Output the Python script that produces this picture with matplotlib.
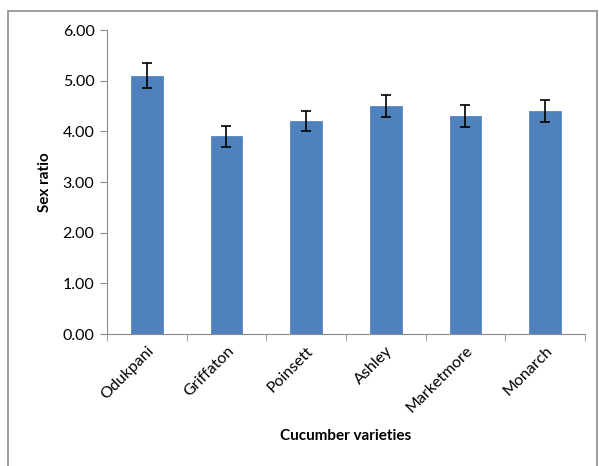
import matplotlib.pyplot as plt
from matplotlib.patches import Rectangle

varieties = ["Odukpani", "Griffaton", "Poinsett", "Ashley", "Marketmore", "Monarch"]
sex_ratio = [5.10, 3.90, 4.20, 4.50, 4.30, 4.40]
sex_ratio_err = [0.25, 0.20, 0.20, 0.22, 0.22, 0.21]
y_ticks = [0, 1, 2, 3, 4, 5, 6]

plt.rcParams["font.family"] = ["Lato", "DejaVu Sans"]

fig = plt.figure(figsize=(5.99, 4.66), dpi=100)
# outer chart frame
fig.patches.append(Rectangle((8 / 599, -0.05), 589 / 599, 1.05 - 11 / 466,
                             transform=fig.transFigure, fill=False,
                             edgecolor="#8c8c8c", linewidth=1.2))

ax = fig.add_axes([107 / 599, 132 / 466, 478 / 599, 304 / 466])
x = range(len(varieties))
ax.bar(x, sex_ratio, width=0.4, color="#4f81bd", edgecolor="#4a7ab5",
       linewidth=0.5, zorder=2)
ax.errorbar(x, sex_ratio, yerr=sex_ratio_err, fmt="none", ecolor="black",
            elinewidth=1.2, capsize=3.5, capthick=1.2, zorder=3)

ax.set_xlim(-0.5, len(varieties) - 0.5)
ax.set_ylim(0, 6)
ax.set_yticks(y_ticks)
ax.set_yticklabels([f"{v:.2f}" for v in y_ticks], fontsize=11.5)
ax.set_xticks(list(x))
ax.set_xticklabels(varieties, rotation=45, ha="right", rotation_mode="anchor",
                   fontsize=11.5)
ax.set_xticks([i - 0.5 for i in range(len(varieties) + 1)], minor=True)
ax.tick_params(axis="x", which="major", length=0, pad=7)
ax.tick_params(axis="x", which="minor", length=5, color="#8c8c8c")
ax.tick_params(axis="y", length=5, color="#8c8c8c", pad=4)

for side in ["top", "right"]:
    ax.spines[side].set_visible(False)
for side in ["left", "bottom"]:
    ax.spines[side].set_color("#8c8c8c")

ax.set_ylabel("Sex ratio", fontsize=11, fontweight="bold", labelpad=8)
ax.set_xlabel("Cucumber varieties", fontsize=11, fontweight="bold", labelpad=10)

fig.savefig("out.png", dpi=100)
